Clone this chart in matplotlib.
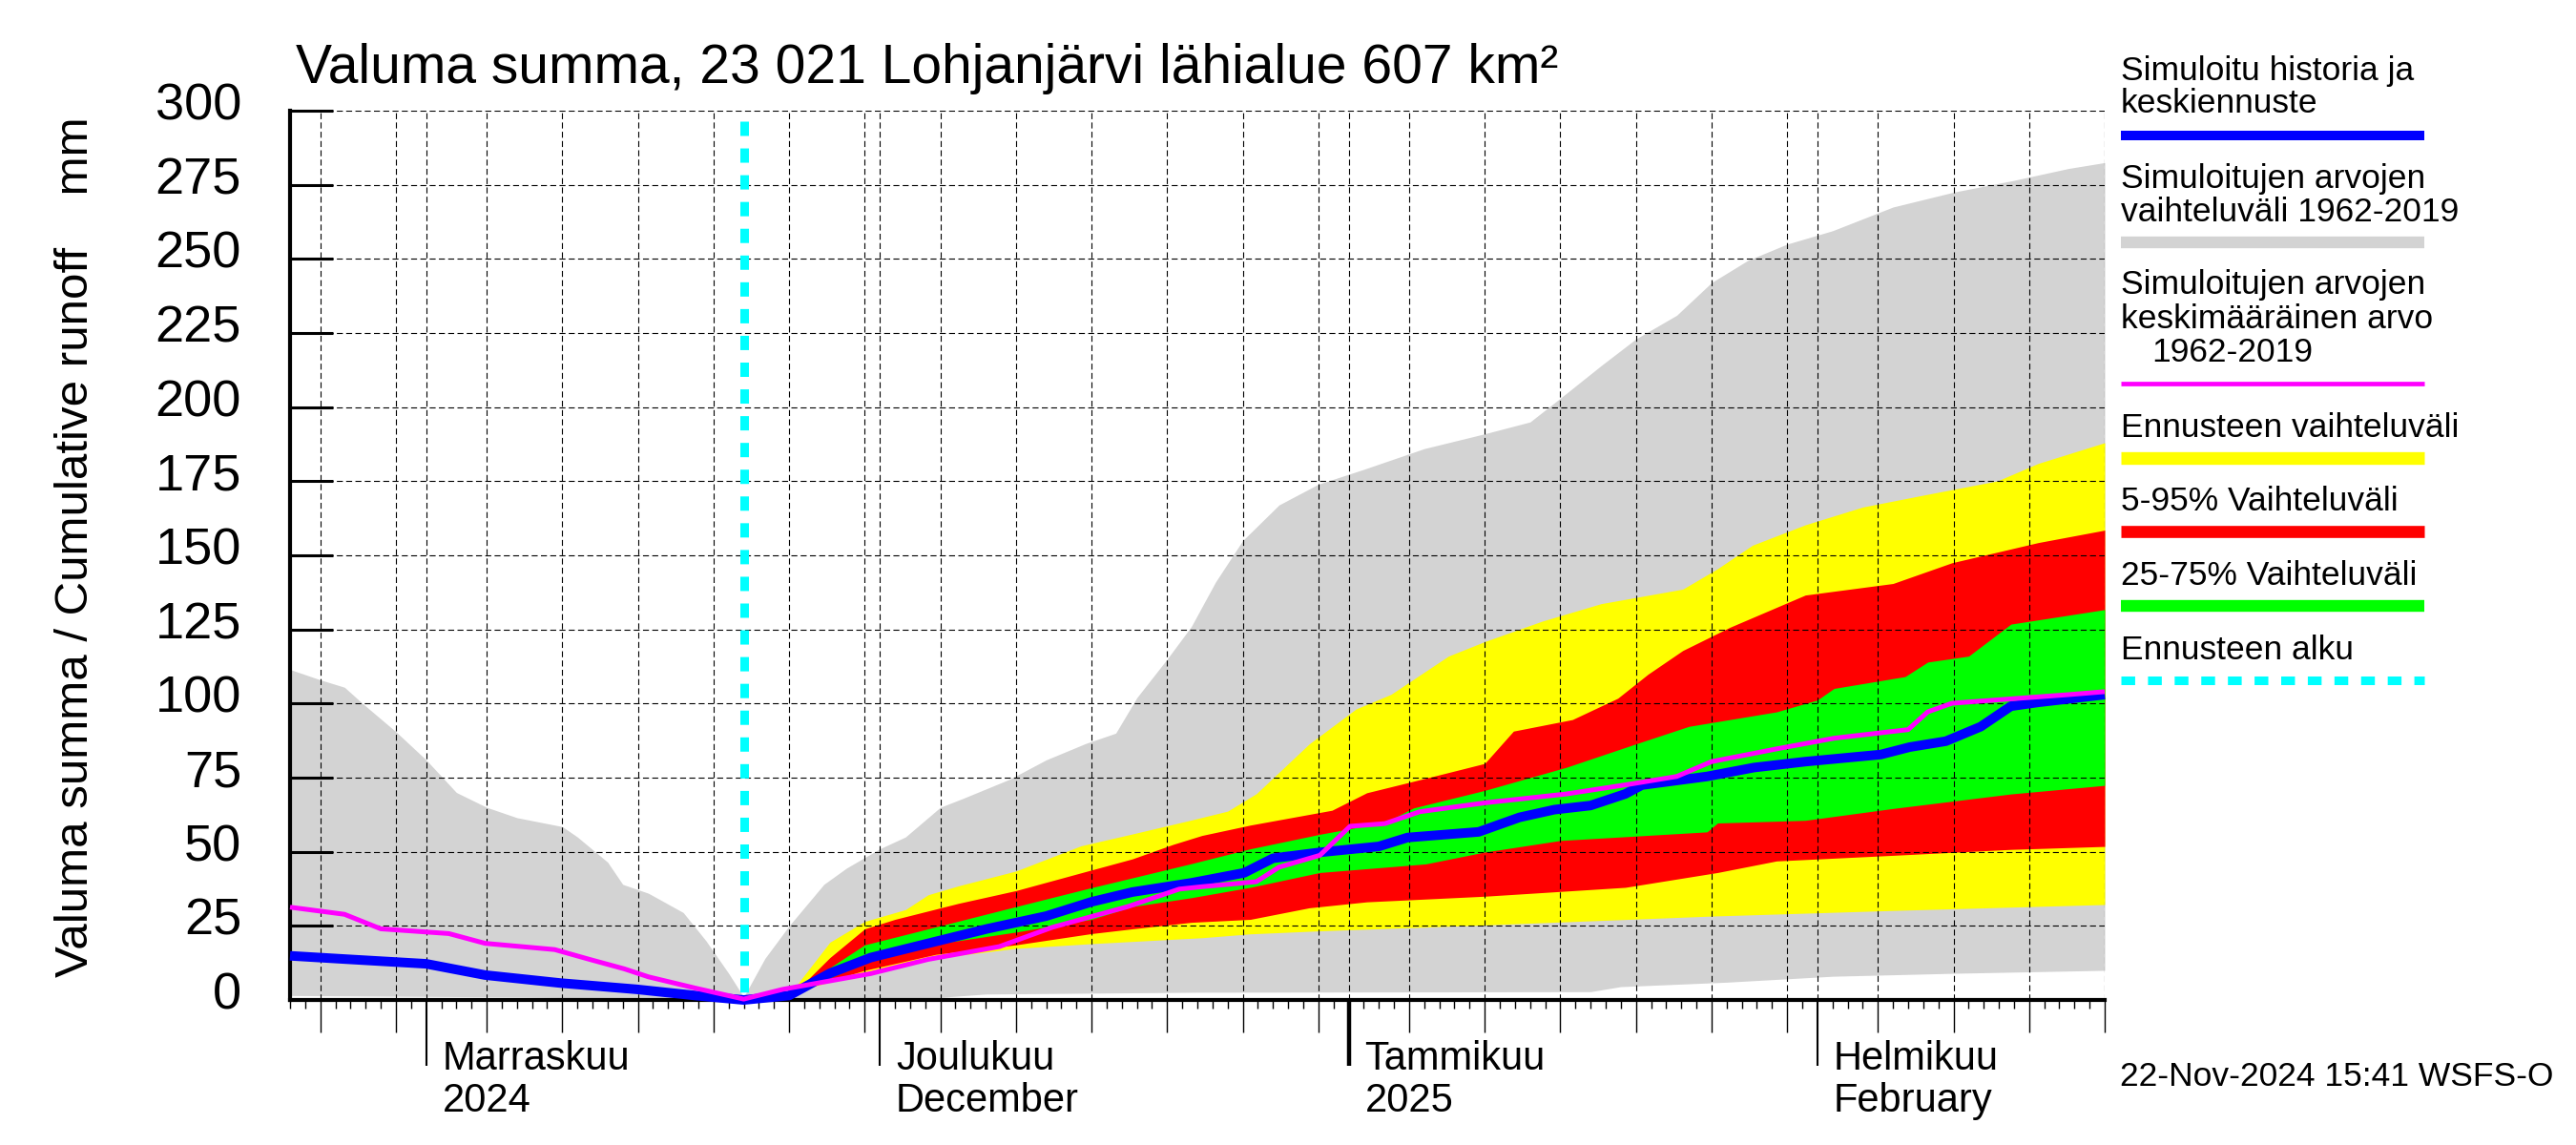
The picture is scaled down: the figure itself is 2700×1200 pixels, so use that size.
import numpy as np
import matplotlib
matplotlib.use("Agg")
import matplotlib.pyplot as plt
import matplotlib.dates as mdates
from matplotlib.lines import Line2D
from matplotlib.transforms import ScaledTranslation
from datetime import datetime

plt.rcParams['font.family'] = ['Liberation Sans', 'DejaVu Sans']
plt.rcParams['lines.scale_dashes'] = False

# ---------------- data (days since 2024-10-23) ----------------
start_date = datetime(2024, 10, 23)
end_day = 120
forecast_day = 30  # 22-Nov-2024

gray_hi_x = [0, 2, 3.6, 4.8, 7, 9, 11, 13, 15, 18, 19, 21, 22, 23.7, 26, 27.5, 29, 30,
             31.4, 33, 35.3, 36.8, 39, 40.7, 43, 44.5, 47.6, 50, 52.6, 54.6, 56, 58, 59.6,
             61.2, 63, 65.4, 68, 71, 75, 79, 82, 84, 86.7, 89, 91.7, 94, 96.4, 99, 102,
             106, 110, 114, 117.6, 120]
gray_hi = [111.5, 108, 105.5, 100, 90.5, 81, 70, 65, 61.5, 58.5, 55, 46.5, 39, 36, 29.5,
           20, 9, 1, 14, 25, 39, 44.5, 51, 55, 65, 68, 74.5, 81, 86.5, 90, 102, 115, 126,
           141, 155, 167, 174, 179, 186, 191, 195, 203, 214, 223, 231, 242, 249.5, 255,
           259.5, 267.5, 272.5, 276.5, 280.5, 282.5]
gray_lo_x = [0, 15, 30, 42, 46, 60, 86, 88, 95, 102, 110, 120]
gray_lo = [1.5, 1.0, 0, 0.5, 2, 2.6, 2.8, 4.5, 6, 8, 9, 10]

yel_hi_x = [30, 33, 33.8, 35.7, 38, 40.7, 42.2, 44.2, 48, 52.3, 55.7, 59.6, 62, 63.9, 67.4,
            70.5, 72.8, 76.6, 79, 82.8, 86.7, 92.1, 94.4, 96.7, 100.2, 104, 107.9, 112.9,
            115.6, 120]
yel_hi = [0, 1.5, 7, 19.5, 26.5, 30.5, 35.5, 38.5, 43.5, 52, 56, 60.7, 63.7, 69.6, 86.4,
          98.2, 103.1, 116, 120.9, 127.8, 133.7, 138.6, 145.5, 153.4, 160.3, 166.3, 170.2,
          175.1, 181, 188]
yel_lo_x = [30, 33.8, 38.4, 43, 48, 53, 60.3, 63.5, 68, 79, 84, 94, 106, 120]
yel_lo = [0, 3.5, 9.5, 14.3, 17.4, 19, 21, 22.3, 23.3, 25.3, 26.3, 28.3, 30.2, 32.2]

red_hi_x = [30, 33, 33.8, 35.7, 38, 40, 44.2, 48, 52.6, 55.7, 58.4, 60.3, 63.5, 68.9, 71.2,
            75.1, 79, 80.9, 84.8, 87.8, 89.8, 92.1, 95.2, 100.2, 106, 109.9, 115.6, 120]
red_hi = [0, 1, 4.7, 14.3, 24, 27.2, 32.6, 36.9, 43.3, 47.6, 52.5, 55.5, 59, 64, 69.9,
          74.8, 79.8, 90.7, 94.6, 101.8, 109.9, 117.9, 125.7, 136.6, 140.5, 147.5, 154.3,
          158.5]
red_lo_x = [30, 34.5, 38, 42.7, 48, 53, 55.7, 59.6, 63.5, 67.4, 71.2, 79, 88.3, 94.4, 98.3,
            106, 113.8, 120]
red_lo = [0, 4.7, 10, 15.4, 18.6, 22.4, 24, 26.2, 27.2, 31.1, 33.1, 35, 38, 43, 46.9, 48.8,
          50.8, 51.8]

grn_hi_x = [30, 33, 34.5, 38, 42.2, 48, 53, 55.7, 59.6, 63.5, 68.1, 72.4, 74.3, 79, 84.4,
            89, 92.5, 98.3, 101, 102.1, 106.8, 108.3, 111, 113.8, 120]
grn_hi = [0, 1, 6.9, 18.6, 24, 31.5, 37.9, 41.2, 46, 51, 55.9, 59.9, 64.8, 70.7, 78.5,
          86.4, 92.3, 97.2, 101.2, 105.1, 109.1, 114, 116, 126.8, 131.7]
grn_lo_x = [30, 34.5, 38, 43, 48, 53, 55.7, 59.6, 63.5, 68.1, 75.1, 79, 84, 93.7, 94.4,
            100.2, 106, 113.8, 120]
grn_lo = [0, 4.7, 12.7, 19.1, 22.9, 27.2, 31.5, 34.5, 38, 43, 45.9, 49.9, 53.8, 56.7, 59.7,
          60.6, 64.6, 69.5, 72.4]

blue_x = [0, 3.6, 9, 12.9, 17.9, 22.9, 26.8, 30, 33, 35.7, 38.4, 42.2, 46.1, 50, 53, 55.7,
          59.6, 63.1, 65, 68.1, 72, 73.9, 78.6, 81.3, 83.6, 86, 88.3, 89.4, 93.7, 96.8,
          100.2, 105.2, 107.1, 109.5, 111.8, 113.8, 115.6, 120]
blue = [14.9, 13.8, 12.2, 8.4, 5.7, 3.6, 1.5, 0, 1.5, 9, 14.3, 19.1, 24, 28.3, 33.1, 36.4,
        39.5, 42.9, 47.8, 49.8, 51.8, 54.8, 56.7, 61.6, 64.2, 65.6, 69.5, 72.5, 75.4, 78.4,
        80.4, 82.8, 85.3, 87.3, 92.2, 99.1, 100.4, 103]

mag_x = [0, 3.6, 6, 10.5, 12.9, 17.5, 19.8, 22.1, 23.7, 26.8, 30, 32.6, 38.4, 42.2, 46.9,
         50.4, 55.4, 58.8, 60.3, 63.9, 65.4, 68.1, 70.1, 72.4, 74.7, 79, 84.4, 88.6, 91.7,
         94, 98.3, 102.1, 107, 108.3, 109.9, 117.6, 120]
mag = [31.3, 28.9, 24, 22.4, 19.1, 17, 13.7, 10.5, 7.8, 4, 0.3, 3.6, 8.9, 13.7, 18, 24.5,
       31.5, 37.4, 38.2, 39.9, 44.8, 48.8, 58.6, 59.5, 63.5, 66.5, 69.5, 72.8, 75.4, 80.4,
       84.7, 88.3, 91.2, 97.2, 100.1, 103, 104]

y_ticks = list(range(0, 301, 25))
month_labels = [("2024-11-01", "Marraskuu", "2024"),
                ("2024-12-01", "Joulukuu", "December"),
                ("2025-01-01", "Tammikuu", "2025"),
                ("2025-02-01", "Helmikuu", "February")]

title = "Valuma summa, 23 021 Lohjanjärvi lähialue 607 km²"
ylabel = "Valuma summa / Cumulative runoff    mm"
stamp = "22-Nov-2024 15:41 WSFS-O"

# ---------------- helpers ----------------
t0 = mdates.date2num(start_date)


def X(days):
    return t0 + np.asarray(days, dtype=float)


def band(xh, yh, xl, yl):
    xs = np.union1d(xh, xl)
    return X(xs), np.interp(xs, xl, yl), np.interp(xs, xh, yh)


W, H = 2700, 1200
fig = plt.figure(figsize=(27, 12), dpi=100)
ax = fig.add_axes([304 / W, 1 - 1048 / H, (2206 - 304) / W, (1048 - 116) / H])

GRAY = '#d3d3d3'
for (xh, yh, xl, yl, c) in [(gray_hi_x, gray_hi, gray_lo_x, gray_lo, GRAY),
                            (yel_hi_x, yel_hi, yel_lo_x, yel_lo, '#ffff00'),
                            (red_hi_x, red_hi, red_lo_x, red_lo, '#ff0000'),
                            (grn_hi_x, grn_hi, grn_lo_x, grn_lo, '#00ff00')]:
    xx, lo, hi = band(xh, yh, xl, yl)
    ax.fill_between(xx, lo, hi, color=c, linewidth=0, zorder=1)

ax.plot(X(blue_x), blue, color='#0000ff', linewidth=7.2, solid_capstyle='butt',
        zorder=4, clip_on=False)
ax.plot(X(mag_x), mag, color='#ff00ff', linewidth=3.6, solid_capstyle='butt',
        zorder=5, clip_on=False)

xf = X(forecast_day)
ax.plot([xf, xf], [0.988, 0.0], transform=ax.get_xaxis_transform(), color='#00ffff',
        linewidth=6.5, linestyle=(0, (10.8, 9.4)), dash_capstyle='butt', zorder=6)

ax.set_xlim(X(0), X(end_day))
ax.set_ylim(0, 300)

# grid
ax.set_axisbelow(False)
ax.grid(True, which='major', axis='both', color='black', linewidth=0.8,
        linestyle=(0, (4.5, 2.5)), zorder=2.5)

# spines
for s in ['top', 'right']:
    ax.spines[s].set_visible(False)
ax.spines['left'].set_linewidth(3)
ax.spines['bottom'].set_linewidth(3)

# y axis
ax.set_yticks(y_ticks)
ax.set_yticklabels([str(v) for v in y_ticks])
ax.tick_params(axis='y', direction='in', length=32.4, width=2.2, pad=36.7, labelsize=39)
off = ScaledTranslation(0, 10 / 100, fig.dpi_scale_trans)
for lab in ax.get_yticklabels():
    lab.set_transform(lab.get_transform() + off)

# x axis
ax.xaxis.set_major_locator(mdates.DayLocator(bymonthday=[1, 5, 10, 15, 20, 25, 30]))
ax.xaxis.set_minor_locator(mdates.DayLocator())
ax.xaxis.set_major_formatter(plt.NullFormatter())
ax.tick_params(axis='x', which='major', direction='out', length=24.5, width=1.0)
ax.tick_params(axis='x', which='minor', direction='out', length=6.5, width=1.0)
locs = ax.xaxis.get_majorticklocs()
for tk, loc in zip(ax.xaxis.get_major_ticks(len(locs)), locs):
    d = mdates.num2date(loc)
    if d.day == 1:
        tk.tick1line.set_markersize(50)
        tk.tick1line.set_markeredgewidth(3.2 if d.month == 1 else 1.5)

for ds, l1, l2 in month_labels:
    xm = mdates.datestr2num(ds)
    for txt, yb in [(l1, 1121), (l2, 1165)]:
        ax.annotate(txt, xy=(xm, (1048 - yb) / 932), xycoords=ax.get_xaxis_transform(),
                    xytext=(12.2, 0), textcoords='offset points', ha='left',
                    va='baseline', fontsize=30, annotation_clip=False)

# texts
fig.text(310 / W, 1 - 87 / H, title, fontsize=41, ha='left', va='baseline')
fig.text(80 / W, 1 - 573 / H, ylabel, fontsize=35.5, rotation=90, ha='center', va='center')
fig.text(2222 / W, 1 - 1128 / H, stamp, fontsize=25.5, ha='left', va='center')

# legend
LX0, LX1 = 2223 / W, 2541 / W
leg_text = [("Simuloitu historia ja", 84, 2223), ("keskiennuste", 118, 2223),
            ("Simuloitujen arvojen", 197, 2223), ("vaihteluväli 1962-2019", 232, 2223),
            ("Simuloitujen arvojen", 308, 2223), ("keskimääräinen arvo", 344, 2223),
            ("1962-2019", 379, 2255),
            ("Ennusteen vaihteluväli", 458, 2223), ("5-95% Vaihteluväli", 535, 2223),
            ("25-75% Vaihteluväli", 613, 2223), ("Ennusteen alku", 691, 2223)]
for txt, yb, xp in leg_text:
    fig.text(xp / W, 1 - yb / H, txt, fontsize=25.5, ha='left', va='baseline')

leg_lines = [(142, '#0000ff', 7.2, '-'), (254, GRAY, 8.9, '-'), (402, '#ff00ff', 3.4, '-'),
             (480, '#ffff00', 9.6, '-'), (557, '#ff0000', 9.1, '-'),
             (635, '#00ff00', 8.9, '-'), (713, '#00ffff', 6.5, (0, (10.4, 9.7)))]
for yp, c, lw, ls in leg_lines:
    fig.add_artist(Line2D([LX0, LX1], [1 - yp / H, 1 - yp / H], transform=fig.transFigure,
                          color=c, linewidth=lw, linestyle=ls, solid_capstyle='butt',
                          dash_capstyle='butt'))

fig.savefig("out.png", dpi=100)
